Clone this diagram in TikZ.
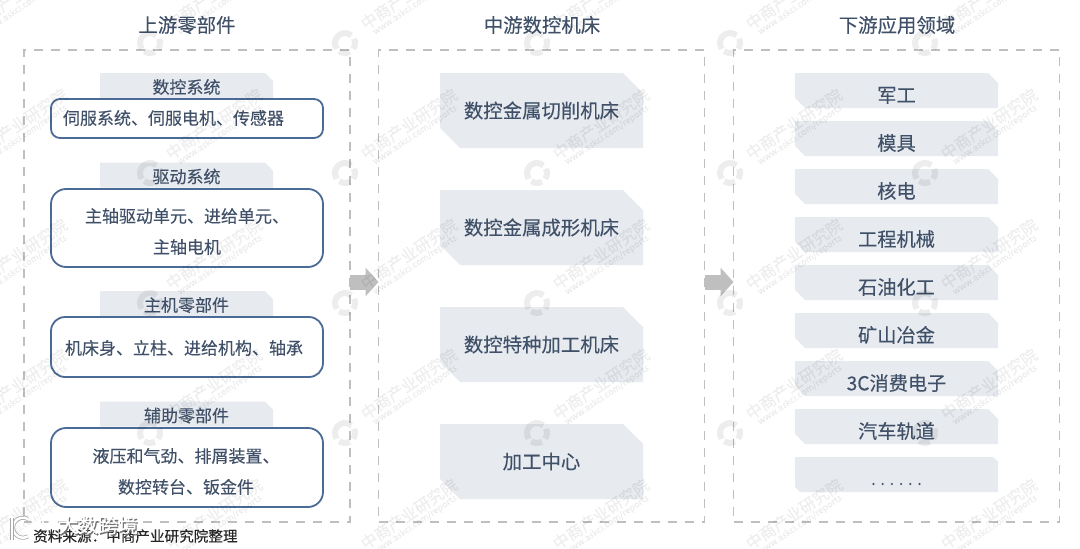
\documentclass[tikz,border=0pt]{standalone}
\usepackage{fontspec}
\setmainfont{Noto Sans CJK SC}[FakeBold=0.15]
\usetikzlibrary{shapes.misc,arrows.meta}
\definecolor{txt}{HTML}{3F5068}
\definecolor{tabfill}{HTML}{E7EAEE}
\definecolor{dashc}{HTML}{BFBFBF}
\definecolor{edgec}{HTML}{4A6B96}
\tikzset{
  panel/.style={draw=dashc,line width=1.6pt,dash pattern=on 9pt off 8pt,minimum width=326pt,minimum height=472pt,inner sep=0pt,outer sep=0pt},
  headtext/.style={text=txt,font=\fontsize{19.4}{22}\selectfont,inner sep=0pt},
  tabbox/.style={fill=tabfill,chamfered rectangle,chamfered rectangle corners={north east},chamfered rectangle xsep=4pt,chamfered rectangle ysep=4pt,minimum width=173pt,minimum height=25pt,inner sep=0pt,outer sep=0pt,text=txt,font=\fontsize{17}{20}\selectfont,text height=16pt,text depth=0pt},
  roundbox/.style={draw=edgec,line width=1.8pt,fill=white,minimum width=272pt,inner sep=0pt,outer sep=0pt},
  roundtext/.style={inner sep=0pt,text=txt,font=\fontsize{17}{31}\selectfont,align=center},
  midbox/.style={fill=tabfill,chamfered rectangle,chamfered rectangle corners={north east,south west},chamfered rectangle xsep=11pt,chamfered rectangle ysep=11pt,minimum width=203pt,minimum height=75pt,inner sep=0pt,outer sep=0pt,text=txt,font=\fontsize{19.4}{22}\selectfont},
  rightbox/.style={fill=tabfill,chamfered rectangle,chamfered rectangle corners={north east,south west},chamfered rectangle xsep=5pt,chamfered rectangle ysep=5pt,minimum width=203pt,minimum height=35pt,inner sep=0pt,outer sep=0pt,text=txt,font=\fontsize{19.2}{22}\selectfont,text height=23.6pt,text depth=0pt},
  blockarrow/.style={draw=dashc,line width=15pt,-{Triangle[length=13pt,width=28pt]}},
  wmark/.style={text=black,opacity=.06,inner sep=0pt,rotate=34},
  wring/.style={black,opacity=.07,line width=6pt},
  ovl/.style={inner sep=0pt,text=white,font=\fontsize{20}{22}\selectfont},
  ovls/.style={inner sep=0pt,text=black!55,font=\fontsize{20}{22}\selectfont},
}
\begin{document}
\begin{tikzpicture}[x=1pt,y=-1pt]
\useasboundingbox (0,0) rectangle (1080,549);
\fill[white] (0,0) rectangle (1080,549);
% panels
\node[panel] (p1) at (187,286) {};
\node[panel] (p2) at (541.5,286) {};
\node[panel] (p3) at (896.5,286) {};
% titles
\node[headtext] (t1) at (187,25) {上游零部件};
\node[headtext] (t2) at (542,25) {中游数控机床};
\node[headtext] (t3) at (897,25) {下游应用领域};
% left column
\node[tabbox] (a1) at (186.5,85.5) {数控系统};
\node[roundbox,rounded corners=9pt,minimum height=39pt] (b1) at (187,118.5) {};
\node[roundtext] (b1t) at (173.5,118) {伺服系统、伺服电机、传感器};
\node[tabbox] (a2) at (186.5,175) {驱动系统};
\node[roundbox,rounded corners=15pt,minimum height=78pt] (b2) at (187,228) {};
\node[roundtext] (b2t) at (187,231.5) {主轴驱动单元、进给单元、\\主轴电机};
\node[tabbox] (a3) at (186.5,303.5) {主机零部件};
\node[roundbox,rounded corners=14pt,minimum height=60pt] (b3) at (187,347) {};
\node[roundtext] (b3t) at (184,348) {机床身、立柱、进给机构、轴承};
\node[tabbox] (a4) at (186.5,414) {辅助零部件};
\node[roundbox,rounded corners=15pt,minimum height=79pt] (b4) at (187,467.5) {};
\node[roundtext] (b4t) at (186,471.5) {液压和气劲、排屑装置、\\数控转台、钣金件};
% middle column
\node[midbox] (m1) at (541.5,110.5) {数控金属切削机床};
\node[midbox] (m2) at (541.5,227.5) {数控金属成形机床};
\node[midbox] (m3) at (541.5,344.5) {数控特种加工机床};
\node[midbox] (m4) at (541.5,461.5) {加工中心};
% right column
\node[rightbox] (r1) at (896.5,90.5) {军工};
\node[rightbox] (r2) at (896.5,138.5) {模具};
\node[rightbox] (r3) at (896.5,186.5) {核电};
\node[rightbox] (r4) at (896.5,234.5) {工程机械};
\node[rightbox] (r5) at (896.5,282.5) {石油化工};
\node[rightbox] (r6) at (896.5,330.5) {矿山冶金};
\node[rightbox] (r7) at (896.5,378.5) {3C消费电子};
\node[rightbox] (r8) at (896.5,426.5) {汽车轨道};
\node[rightbox] (r9) at (896.5,474.5) {};
\node[text=txt,font=\fontsize{16}{18}\selectfont,inner sep=0pt] (dots) at (896.5,484) {. . . . . .};
% arrows
\draw[blockarrow] ([yshift=4pt]p1.east) -- ([yshift=4pt]p2.west);
\draw[blockarrow] ([yshift=4pt]p2.east) -- ([yshift=4pt]p3.west);
% source
\node[anchor=west,inner sep=0pt,text=black!85,font=\fontsize{14.6}{17}\selectfont] (src) at (33,536) {资料来源：中商产业研究院整理};
% watermark
\begin{scope}
\clip (0,0) rectangle (1080,549);
\foreach \lx in {-45,150,345,537,730,925}{
  \foreach \ly in {43,173,303,433,563}{
    \begin{scope}[shift={(\lx,\ly)}]
      \draw[wring] (50:10pt) arc[start angle=50,end angle=215,radius=10pt];
      \draw[wring] (235:10pt) arc[start angle=235,end angle=300,radius=10pt];
      \draw[wring] (-35:10pt) arc[start angle=-35,end angle=25,radius=10pt];
      \node[wmark,font=\fontsize{16}{18}\selectfont] at (64,-49) {中商产业研究院};
      \node[wmark,font=\fontsize{9}{11}\selectfont] at (70,-38) {www.askci.com/reports};
    \end{scope}
  }
}
\end{scope}
% overlay mark, bottom left
\draw[black!35,line width=4pt] (28,519) arc[start angle=60,end angle=300,radius=10pt];
\draw[white,line width=2.5pt] (28,519) arc[start angle=60,end angle=300,radius=10pt];
\draw[black!35,line width=3.5pt] (12,518) -- (12,540);
\draw[white,line width=2pt] (12,518) -- (12,540);
\node[ovl,font=\fontsize{14}{16}\selectfont] (oo) at (41,520) {OO};
\node[ovls] (brands) at (99.2,526.5) {大数跨境};
\node[ovl] (brand) at (98,525) {大数跨境};
\end{tikzpicture}
\end{document}
